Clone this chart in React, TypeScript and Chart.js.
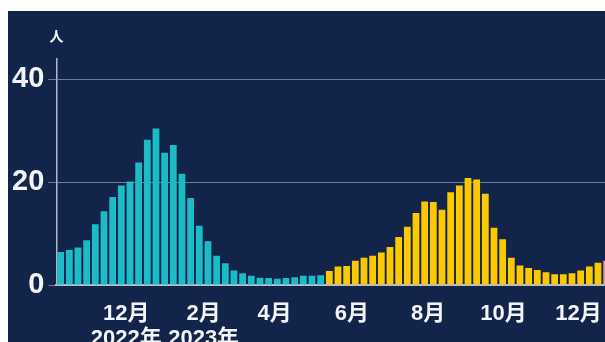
import { useEffect, useRef } from 'react';
import { Chart, registerables } from 'chart.js';

Chart.register(...registerables);

// Weekly values, one bar per week
const season2022 = [
  6.4, 6.8, 7.3, 8.7, 11.8, 14.3, 17.1, 19.3, 20.1, 23.8, 28.2, 30.4, 25.7, 27.2, 21.6, 16.9,
  11.5, 8.5, 5.7, 4.2, 2.8, 2.3, 1.8, 1.4, 1.35, 1.2, 1.35, 1.5, 1.8, 1.8, 1.9,
];
const season2023 = [
  2.7, 3.6, 3.7, 4.7, 5.3, 5.7, 6.3, 7.4, 9.3, 11.3, 14.0, 16.2, 16.1, 14.6, 18.0, 19.3,
  20.8, 20.5, 17.7, 11.1, 8.9, 5.3, 3.8, 3.3, 2.9, 2.5, 2.1, 2.1, 2.3, 2.8, 3.6, 4.3,
];
const season2024 = [4.7];

// Month ticks, placed on the week index where each month begins
const monthTickWeeks = [7.56, 16.5, 24.7, 33.6, 42.4, 51.1, 59.76];
const monthLabels = ['12月', '2月', '4月', '6月', '8月', '10月', '12月'];
const yearLabels = ['2022年', '2023年', '', '', '', '', ''];

const yTicks = [0, 20, 40];
const unitLabel = '人';

const FONT = "'Liberation Sans', 'Noto Sans CJK JP', Arial, sans-serif";
const CANVAS_W = 603;
const CANVAS_H = 345;

const weekCount = season2022.length + season2023.length + season2024.length;
const nulls = (n: number) => Array.from({ length: n }, () => null);

const unitPlugin = {
  id: 'unitLabel',
  afterDraw(chart: Chart) {
    const { ctx } = chart;
    ctx.save();
    ctx.fillStyle = '#f2f4f7';
    ctx.font = `600 14px ${FONT}`;
    ctx.textAlign = 'center';
    ctx.textBaseline = 'middle';
    ctx.fillText(unitLabel, 48.6, 26.5);
    ctx.restore();
  },
};

export default function App() {
  const canvasRef = useRef<HTMLCanvasElement | null>(null);

  useEffect(() => {
    if (!canvasRef.current) return;
    const labels = Array.from({ length: weekCount }, (_, i) => `W${i + 1}`);
    const barStyle = {
      grouped: false,
      categoryPercentage: 1,
      barPercentage: 0.78,
      borderWidth: 0,
    };
    const chart = new Chart(canvasRef.current, {
      type: 'bar',
      data: {
        labels,
        datasets: [
          {
            ...barStyle,
            data: [...season2022, ...nulls(season2023.length + season2024.length)],
            backgroundColor: '#1bbcc6',
          },
          {
            ...barStyle,
            data: [...nulls(season2022.length), ...season2023, ...nulls(season2024.length)],
            backgroundColor: '#fcc800',
          },
          {
            ...barStyle,
            data: [...nulls(season2022.length + season2023.length), ...season2024],
            backgroundColor: '#d9a3b4',
          },
        ],
      },
      options: {
        responsive: false,
        animation: false,
        layout: { padding: { top: 47.4, left: 0, right: 0, bottom: 0 } },
        plugins: { legend: { display: false }, tooltip: { enabled: false } },
        scales: {
          x: { type: 'category', display: false },
          xMonths: {
            axis: 'x',
            type: 'linear',
            position: 'bottom',
            offset: false,
            min: -0.5,
            max: weekCount - 0.5,
            afterBuildTicks: (scale: any) => {
              scale.ticks = monthTickWeeks.map((v) => ({ value: v }));
            },
            afterFit: (scale: any) => {
              scale.height = CANVAS_H - 274;
            },
            grid: { display: false, offset: false },
            border: { display: true, color: '#b3bdcc', width: 2 },
            ticks: {
              autoSkip: false,
              maxRotation: 0,
              minRotation: 0,
              padding: 9,
              color: '#f2f4f7',
              font: { family: FONT, size: 22, weight: 'bold', lineHeight: 1.12 },
              callback: (_v: any, i: number) =>
                yearLabels[i] ? [monthLabels[i], yearLabels[i]] : monthLabels[i],
            },
          },
          y: {
            min: 0,
            max: 44,
            afterBuildTicks: (scale: any) => {
              scale.ticks = yTicks.map((v) => ({ value: v }));
            },
            afterFit: (scale: any) => {
              scale.width = 48.3;
            },
            grid: { color: '#6f7e97', lineWidth: 1, tickLength: 8 },
            border: { display: true, color: '#aeb8c8', width: 1.5 },
            ticks: {
              padding: 4,
              color: '#f2f4f7',
              font: { family: FONT, size: 29, weight: 'bold' },
            },
          },
        },
      },
      plugins: [unitPlugin],
    } as any);
    return () => chart.destroy();
  }, []);

  return (
    <div
      style={{
        position: 'fixed',
        left: 8,
        top: 11,
        width: 597,
        height: 331,
        overflow: 'hidden',
        background: '#13244a',
      }}
    >
      <canvas ref={canvasRef} width={CANVAS_W} height={CANVAS_H} style={{ display: 'block' }} />
    </div>
  );
}
